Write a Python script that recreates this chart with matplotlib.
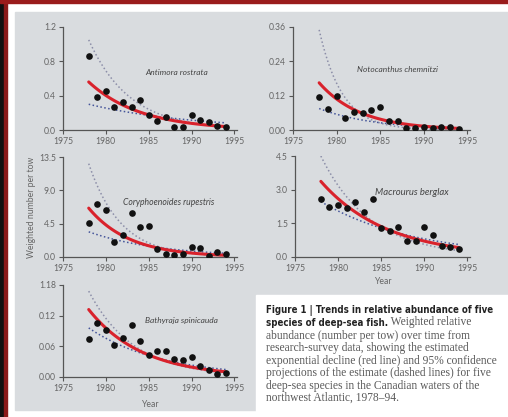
import numpy as np
import matplotlib.pyplot as plt
from matplotlib.patches import Rectangle

# survey years and weighted number per tow for each species
years = np.arange(1978, 1995)
antimora = [0.86, 0.39, 0.45, 0.27, 0.33, 0.27, 0.35, 0.17, 0.10, 0.15,
            0.03, 0.03, 0.18, 0.12, 0.09, 0.05, 0.04]
notacanthus = [0.116, 0.072, 0.118, 0.041, 0.064, 0.060, 0.070, 0.081, 0.033,
               0.033, 0.006, 0.006, 0.009, 0.008, 0.012, 0.012, 0.002]
coryphaenoides = [4.6, 7.1, 6.3, 2.0, 3.0, 5.95, 4.1, 4.2, 1.1, 0.4,
                  0.3, 0.35, 1.35, 1.15, 0.15, 0.65, 0.45]
macrourus = [2.59, 2.22, 2.32, 2.20, 2.44, 1.99, 2.59, 1.27, 1.15, 1.32,
             0.72, 0.72, 1.35, 1.00, 0.49, 0.45, 0.34]
bathyraja = [0.074, 0.105, 0.091, 0.062, 0.076, 0.102, 0.071, 0.044, 0.050,
             0.051, 0.035, 0.034, 0.039, 0.021, 0.014, 0.006, 0.008]

# exponential fits (value in 1978, yearly decline rate): estimate, upper, lower
antimora_fit = [(0.56, 0.165), (1.05, 0.21), (0.30, 0.08)]
notacanthus_fit = [(0.165, 0.21), (0.35, 0.38), (0.075, 0.155)]
coryphaenoides_fit = [(6.6, 0.21), (12.6, 0.27), (3.4, 0.12)]
macrourus_fit = [(3.37, 0.13), (4.5, 0.173), (2.47, 0.093)]
bathyraja_fit = [(0.132, 0.16), (0.168, 0.19), (0.096, 0.118)]

names = ['Antimora rostrata', 'Notocanthus chemnitzi', 'Coryphoenoides rupestris',
         'Macrourus berglax', 'Bathyraja spinicauda']
yticks = [[0.0, 0.4, 0.8, 1.2], [0.0, 0.12, 0.24, 0.36], [0.0, 4.5, 9.0, 13.5],
          [0.0, 1.5, 3.0, 4.5], [0.0, 0.06, 0.12, 0.18]]
ytick_labels = [['0.0', '0.4', '0.8', '1.2'], ['0.00', '0.12', '0.24', '0.36'],
                ['0.0', '4.5', '9.0', '13.5'], ['0.0', '1.5', '3.0', '4.5'],
                ['0.00', '0.06', '0.12', '1.18']]
xticks = [1975, 1980, 1985, 1990, 1995]

W, H = 508, 417
fig = plt.figure(figsize=(W / 100, H / 100), dpi=100)
fig.patch.set_facecolor('white')

# page frame: grey plate, dark edges, white caption box
bg = fig.add_axes([0, 0, 1, 1])
bg.set_xlim(0, W)
bg.set_ylim(H, 0)
bg.axis('off')
bg.add_patch(Rectangle((15, 12), W - 15, 398, color='#d9dcdf'))
bg.add_patch(Rectangle((256, 295), W - 256, H - 295, color='white'))
bg.add_patch(Rectangle((0, 0), 4, H, color='#111111'))
bg.add_patch(Rectangle((4, 0), 3, H, color='#8a1a1a'))
bg.add_patch(Rectangle((0, 0), W, 3, color='#9a1c1c'))


def px_axes(left, right, top, bottom):
    return fig.add_axes([left / W, 1 - bottom / H, (right - left) / W, (bottom - top) / H])


rects = [(63, 237, 27, 130), (293, 470, 27, 130), (63, 237, 157, 257),
         (295, 470, 156, 257), (63, 237, 285, 377)]
series = [antimora, notacanthus, coryphaenoides, macrourus, bathyraja]
fits = [antimora_fit, notacanthus_fit, coryphaenoides_fit, macrourus_fit, bathyraja_fit]
label_pos = [(1988.3, 0.67), (1987.0, 0.21), (1987.3, 7.4), (1988.6, 2.88), (1988.8, 0.11)]
label_size = [6.0, 6.0, 6.2, 6.8, 6.0]

t = np.linspace(1978, 1994, 120)
tick_font = dict(family='Lato', size=6.2, color='#666666')

for i in range(5):
    ax = px_axes(*rects[i])
    ax.patch.set_alpha(0)
    (a, b), (ua, ub), (la, lb) = fits[i]
    ax.plot(t, ua * np.exp(-ub * (t - 1978)), color='#8c8ea8', lw=1.1,
            ls=(0, (1, 1.6)))
    ax.plot(t, la * np.exp(-lb * (t - 1978)), color='#45559a', lw=1.1,
            ls=(0, (1, 1.6)))
    ax.plot(t, a * np.exp(-b * (t - 1978)), color='#d9222c', lw=2.2,
            solid_capstyle='round')
    ax.scatter(years, series[i], s=23, color='#111111', zorder=3, linewidths=0)

    ax.set_xlim(1975, 1995.3)
    ax.set_ylim(0, yticks[i][-1])
    ax.set_xticks(xticks)
    ax.set_xticklabels([str(x) for x in xticks], fontdict=tick_font)
    ax.set_yticks(yticks[i])
    ax.set_yticklabels(ytick_labels[i], fontdict=tick_font)
    ax.tick_params(length=3, width=0.8, color='#555555', pad=2)
    for side in ['top', 'right']:
        ax.spines[side].set_visible(False)
    for side in ['left', 'bottom']:
        ax.spines[side].set_color('#555555')
        ax.spines[side].set_linewidth(0.9)
    ax.text(*label_pos[i], names[i], ha='center', va='center', style='italic',
            family='Lato', size=label_size[i], color='#444444')
    if i in (3, 4):
        ax.set_xlabel('Year', fontdict=tick_font, labelpad=3 if i == 3 else 5)

fig.text(32 / W, 1 - 207 / H, 'Weighted number per tow', rotation=90,
         ha='center', va='center', family='Lato', size=6.2, color='#666666')

# caption: bold lead-in followed by serif body text
bold = dict(family='DejaVu Sans', weight='bold', stretch='condensed', size=6.9,
            color='#222222')
serif = dict(family='Liberation Serif', size=8.3, color='#5a5a5a')
x0 = 266 / W
fig.text(x0, 1 - 311 / H, 'Figure 1 | Trends in relative abundance of five',
         va='center', **bold)
first = fig.text(x0, 1 - 323 / H, 'species of deep-sea fish.', va='center', **bold)
bg.annotate(' Weighted relative', xy=(1, 0), xycoords=first, va='bottom',
            annotation_clip=False, **serif)
lines = ['abundance (number per tow) over time from',
         'research-survey data, showing the estimated',
         'exponential decline (red line) and 95% confidence',
         'projections of the estimate (dashed lines) for five',
         'deep-sea species in the Canadian waters of the',
         'northwest Atlantic, 1978\u201394.']
for k, line in enumerate(lines):
    fig.text(x0, 1 - (336 + 12.4 * k) / H, line, va='center', **serif)

fig.savefig('out.png', dpi=100)
